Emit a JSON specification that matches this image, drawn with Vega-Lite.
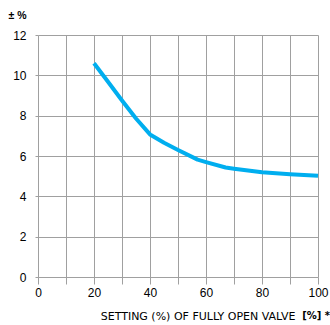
{
  "$schema": "https://vega.github.io/schema/vega-lite/v6.json",
  "autosize": {"type": "none"},
  "width": 280,
  "height": 242,
  "padding": {"left": 38, "top": 35, "right": 12, "bottom": 48},
  "background": "white",
  "config": {
    "view": {"stroke": null},
    "font": "Liberation Sans",
    "axis": {"labelFont": "Liberation Sans", "titleFont": "Liberation Sans"}
  },
  "title": {
    "text": "[%] *",
    "orient": "bottom",
    "anchor": "end",
    "frame": "group",
    "font": "DejaVu Sans",
    "fontWeight": "bold",
    "fontSize": 10,
    "color": "#000000",
    "offset": -10,
    "dx": 12
  },
  "data": {
    "values": [
      {"x": 20, "y": 10.6},
      {"x": 25, "y": 9.68},
      {"x": 30, "y": 8.75},
      {"x": 35, "y": 7.86},
      {"x": 40, "y": 7.07},
      {"x": 45, "y": 6.66},
      {"x": 50, "y": 6.3},
      {"x": 57, "y": 5.82},
      {"x": 60, "y": 5.7},
      {"x": 67, "y": 5.43},
      {"x": 70, "y": 5.37},
      {"x": 80, "y": 5.19},
      {"x": 90, "y": 5.1},
      {"x": 100, "y": 5.02}
    ]
  },
  "mark": {"type": "line", "color": "#00AEEF", "strokeWidth": 4, "strokeCap": "butt", "strokeJoin": "round"},
  "encoding": {
    "x": {
      "field": "x",
      "type": "quantitative",
      "scale": {"domain": [0, 100], "nice": false, "zero": false},
      "axis": {
        "values": [0, 10, 20, 30, 40, 50, 60, 70, 80, 90, 100],
        "labelExpr": "datum.value % 20 === 0 ? datum.label : ''",
        "domain": false,
        "grid": true,
        "gridColor": "#a0a0a0",
        "gridWidth": 1,
        "gridOpacity": 1,
        "ticks": true,
        "tickSize": 7,
        "tickColor": "#a0a0a0",
        "labelFontSize": 12,
        "labelColor": "#000000",
        "labelPadding": 3,
        "labelFlush": false,
        "labelOverlap": false,
        "title": "SETTING (%) OF FULLY OPEN VALVE",
        "titleFont": "DejaVu Sans",
        "titleFontSize": 11,
        "titleFontWeight": "normal",
        "titleColor": "#000000",
        "titleAnchor": "end",
        "titleAlign": "right",
        "titleBaseline": "alphabetic",
        "titleX": 257,
        "titleY": 42
      }
    },
    "y": {
      "field": "y",
      "type": "quantitative",
      "scale": {"domain": [0, 12], "nice": false, "zero": true},
      "axis": {
        "values": [0, 2, 4, 6, 8, 10, 12],
        "domain": false,
        "grid": true,
        "gridColor": "#a0a0a0",
        "gridWidth": 1,
        "gridOpacity": 1,
        "ticks": true,
        "tickSize": 3,
        "tickColor": "#a0a0a0",
        "labelFontSize": 12,
        "labelColor": "#000000",
        "labelPadding": 9,
        "labelFlush": false,
        "title": "± %",
        "titleFontSize": 10.5,
        "titleFontWeight": "bold",
        "titleColor": "#000000",
        "titleAngle": 0,
        "titleAlign": "center",
        "titleBaseline": "middle",
        "titleX": -21,
        "titleY": -20
      }
    }
  }
}
